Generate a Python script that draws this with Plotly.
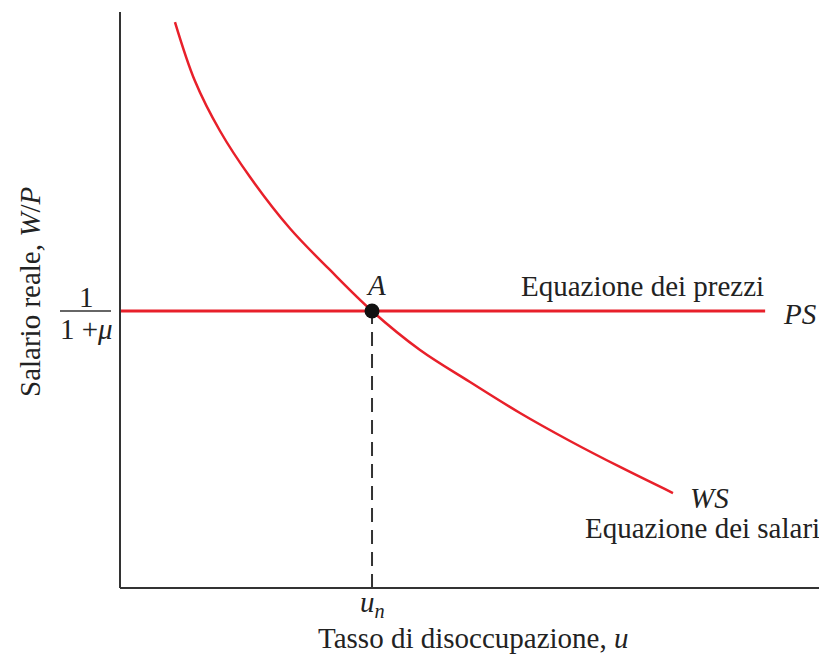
import plotly.graph_objects as go

ws_u = [7.83, 10.68, 14.25, 18.52, 24.22, 29.91, 35.90, 42.74, 49.86,
        56.98, 64.10, 71.23, 78.77]
ws_w = [98.26, 88.02, 79.34, 71.35, 62.41, 55.21, 48.09, 41.32, 35.76,
        30.38, 25.52, 21.01, 16.49]

# PS line (price-setting)
ps_u = [0.0, 91.9]
ps_level = 48.09

# Equilibrium point A
eq_u = 35.90
eq_w = 48.09

RED = "#e8202a"
DARK = "#333333"
FONT = "Liberation Serif"
FS = 29

# page body has an 8px margin: the figure is placed at (8, 8) in the window
OFF = 8
PL, PR, PT, PB = 120, 822, 12, 588   # plot area in window pixels
W, H = 827 - OFF, 659 - OFF

fig = go.Figure()

# dashed vertical from A to the x axis
fig.add_trace(go.Scatter(x=[eq_u, eq_u], y=[0, eq_w], mode="lines",
                         line=dict(color=DARK, width=2, dash="14px,8px"),
                         hoverinfo="skip", showlegend=False))
# PS
fig.add_trace(go.Scatter(x=ps_u, y=[ps_level] * len(ps_u), mode="lines",
                         line=dict(color=RED, width=3), showlegend=False))
# WS
fig.add_trace(go.Scatter(x=ws_u, y=ws_w, mode="lines", line_shape="spline",
                         line=dict(color=RED, width=2.5, smoothing=1.0),
                         showlegend=False))
# point A
fig.add_trace(go.Scatter(x=[eq_u], y=[eq_w], mode="markers",
                         marker=dict(color="#111111", size=15), showlegend=False))

ann = []
def a(text, x, y, xanchor="center", yanchor="middle", size=FS, angle=0):
    ann.append(dict(text=text, x=x, y=y, xref="paper", yref="paper", xanchor=xanchor,
                    yanchor=yanchor, showarrow=False, textangle=angle,
                    font=dict(family=FONT, size=size, color="#222222")))

# window pixel helpers -> paper coordinates
def px(p):
    return (p - PL) / float(PR - PL)
def py(p):
    return (PB - p) / float(PB - PT)

a("<i>A</i>", px(376), py(285))
a("Equazione dei prezzi", px(766), py(286), xanchor="right")
a("<i>PS</i>", px(781), py(314), xanchor="left")
a("<i>WS</i>", px(688), py(498), xanchor="left")
a("Equazione dei salari", px(822), py(528), xanchor="right")
a("<i>u</i><sub><i>n</i></sub>", px(372), py(604))
a("Tasso di disoccupazione, <i>u</i>", px(473), py(638))
a("Salario reale, <i>W</i>/<i>P</i>", px(30), py(292), angle=-90)
a("1", px(86), py(297))
a("1 +<i>μ</i>", px(86), py(329))

shapes = [
    # fraction bar
    dict(type="line", xref="paper", yref="paper", x0=px(60), x1=px(111),
         y0=py(311), y1=py(311), line=dict(color=DARK, width=1.5)),
    # y axis line
    dict(type="line", xref="paper", yref="paper", x0=0, x1=0, y0=0, y1=1,
         line=dict(color=DARK, width=2)),
    # x axis line
    dict(type="line", xref="paper", yref="paper", x0=0, x1=1, y0=0, y1=0,
         line=dict(color=DARK, width=2)),
]

fig.update_layout(
    width=W, height=H,
    margin=dict(l=PL - OFF, r=W - (PR - OFF), t=PT - OFF, b=H - (PB - OFF), pad=0),
    paper_bgcolor="white", plot_bgcolor="white",
    xaxis=dict(range=[0, 100], showgrid=False, zeroline=False, showline=False,
               showticklabels=False, ticks=""),
    yaxis=dict(range=[0, 100], showgrid=False, zeroline=False, showline=False,
               showticklabels=False, ticks=""),
    annotations=ann, shapes=shapes, showlegend=False,
)

fig.write_html("out.html")
